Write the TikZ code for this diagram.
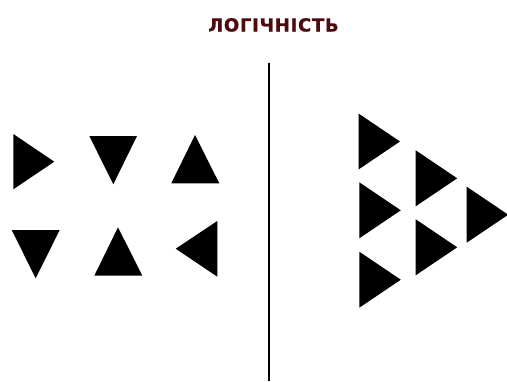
\documentclass[tikz,border=0pt]{standalone}
\usepackage{fontspec}
\newfontfamily\titlefont[LetterSpace=4,FakeBold=1.2]{DejaVu Sans Bold}
\definecolor{maroon}{RGB}{75,12,16}
\tikzset{tri/.style={fill=black}}
\begin{document}
\begin{tikzpicture}[x=1pt,y=-1pt]
\useasboundingbox (0,0) rectangle (507,381);
\node[color=maroon,anchor=base,font=\titlefont\fontsize{18}{21}\selectfont] (title) at (273.5,31.5) {ЛОГІЧНІСТЬ};
\draw[line width=2pt] (269,63) -- (269,381);
% left: mixed directions
\fill[tri] (13.3,134) -- (13.3,189.3) -- (54.3,161.7) -- cycle;
\fill[tri] (89.3,136) -- (137,136) -- (113.3,184.3) -- cycle;
\fill[tri] (171.3,183.3) -- (219.3,183.3) -- (195,135) -- cycle;
\fill[tri] (11.7,230) -- (59.7,230) -- (35.7,278.3) -- cycle;
\fill[tri] (94.3,275.7) -- (142.3,275.7) -- (118,227.3) -- cycle;
\fill[tri] (217.3,221) -- (217.3,276.7) -- (175.7,248.7) -- cycle;
% right: all pointing right
\foreach \x/\y in {358.5/113.5, 415.7/150.3, 359.3/182.3, 466.7/186.7, 415.7/219.3, 359.3/251.7}
  \fill[tri] (\x,\y) -- ++(0,56) -- ++(41.5,-28) -- cycle;
\end{tikzpicture}
\end{document}
